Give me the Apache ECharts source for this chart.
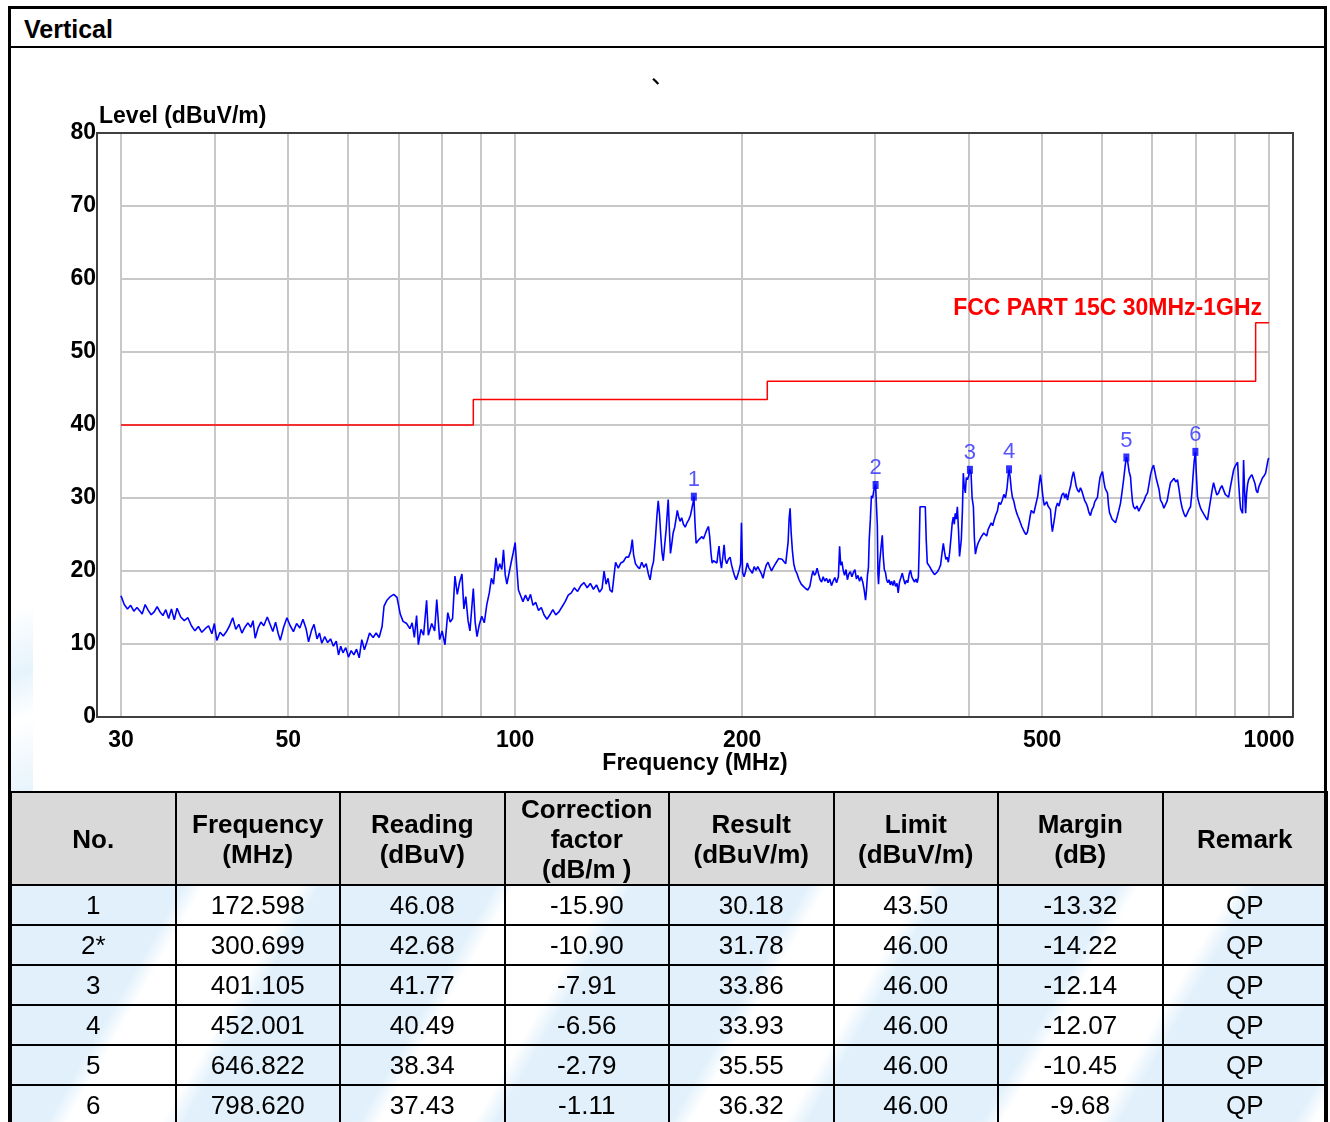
<!DOCTYPE html>
<html><head><meta charset="utf-8">
<script src="https://cdn.jsdelivr.net/npm/echarts@6/dist/echarts.min.js"></script>
<style>
html,body{margin:0;padding:0;background:#fff;width:1330px;height:1122px;overflow:hidden;font-family:'Liberation Sans',Arial,sans-serif;}
#outer{position:absolute;left:8px;top:6px;width:1319px;height:1140px;border:3px solid #000;box-sizing:border-box;z-index:5;pointer-events:none}
#hdr{position:absolute;left:11px;top:9px;height:37px;line-height:40px;padding-left:13px;font-weight:bold;font-size:25px;color:#000}
#hdrline{position:absolute;left:8px;top:46px;width:1319px;height:2px;background:#000;z-index:5}
#wm{position:absolute;left:11px;top:610px;width:22px;height:182px;background:linear-gradient(160deg,#ffffff 0%,#e6f3fc 35%,#ffffff 60%,#e6f3fc 100%)}
#chart{position:absolute;left:10px;top:48px;width:1315px;height:744px}
#wm2{position:absolute;left:10px;top:885px;width:1317px;height:237px;background-color:#e1f0fb;
 background-image:repeating-linear-gradient(120deg,#e1f0fb 0px,#e1f0fb 150px,#ffffff 168px,#ffffff 250px,#e1f0fb 270px)}
#tbl{position:absolute;left:10px;top:791px;width:1318px;border-collapse:collapse;table-layout:fixed}
#tbl td,#tbl th{border:2px solid #000;text-align:center;padding:0;color:#000;font-family:'Liberation Sans',Arial,sans-serif}
#tbl th{background:#d9d9d9;font-weight:bold;font-size:26px;line-height:30px;height:91px}
#tbl td{font-size:26px;height:38px;line-height:38px;background:transparent}
</style>
</head><body>
<div id="wm"></div>
<div id="chart"></div>
<div id="wm2"></div>
<table id="tbl"><thead><tr id="headRow"></tr></thead><tbody id="tbody"></tbody></table>
<div id="hdr">Vertical</div>
<div id="hdrline"></div>
<div id="outer"></div>
<script>
const tracePoints = [
[30.0,16.6],[30.3,15.4],[30.6,14.8],[30.9,15.3],[31.2,14.5],[31.5,15.0],[31.8,14.5],[32.0,14.1],[32.3,15.4],[32.6,14.6],
[32.9,14.0],[33.2,14.4],[33.5,15.1],[33.8,14.4],[34.1,13.9],[34.4,14.7],[34.7,13.5],[35.0,14.8],[35.3,13.3],[35.6,14.9],
[36.0,13.7],[36.4,13.2],[36.8,13.6],[37.2,12.5],[37.6,11.8],[38.0,12.4],[38.4,11.6],[38.8,12.1],[39.2,12.5],[39.6,11.4],
[39.9,12.8],[40.2,10.5],[40.6,11.6],[41.0,11.1],[41.4,11.7],[41.8,12.5],[42.2,13.6],[42.6,12.0],[43.0,12.7],[43.4,11.5],
[43.8,12.3],[44.2,12.9],[44.6,12.3],[44.9,13.2],[45.2,10.8],[45.6,12.2],[46.0,13.0],[46.4,12.5],[46.9,13.7],[47.3,12.7],
[47.7,11.7],[48.1,13.0],[48.5,11.4],[48.8,10.5],[49.3,12.3],[49.8,13.6],[50.3,12.5],[50.8,11.7],[51.3,12.8],[51.8,12.2],
[52.3,13.4],[52.8,12.1],[53.2,10.3],[53.7,11.9],[54.1,12.7],[54.6,10.7],[55.0,11.5],[55.4,10.1],[55.9,11.0],[56.4,10.2],
[56.9,10.7],[57.4,9.7],[57.9,10.4],[58.3,8.5],[58.7,9.7],[59.1,8.8],[59.6,9.5],[60.1,8.2],[60.6,9.1],[61.1,8.5],
[61.6,9.3],[62.1,8.1],[62.6,10.6],[63.1,9.2],[63.6,10.3],[64.1,11.5],[64.8,10.9],[65.4,11.5],[66.0,10.9],[66.6,12.4],
[67.0,15.2],[67.6,16.0],[68.3,16.5],[69.0,16.8],[69.7,16.4],[70.4,14.1],[71.0,13.1],[71.8,12.8],[72.5,12.1],[73.0,12.9],
[73.5,10.9],[74.0,13.9],[74.4,9.9],[75.0,12.0],[75.6,11.2],[76.3,16.0],[76.7,11.2],[77.5,12.8],[78.2,11.8],[78.7,16.1],
[79.4,10.6],[80.0,11.8],[80.7,9.9],[81.4,14.3],[82.0,13.0],[82.6,13.5],[83.2,19.3],[83.8,16.8],[84.4,18.5],[85.0,19.6],
[85.5,14.8],[86.0,16.5],[86.6,13.2],[87.1,11.8],[87.6,15.0],[88.0,17.6],[88.5,13.0],[89.0,11.0],[89.6,12.6],[90.3,13.8],
[91.0,12.9],[91.7,15.4],[92.4,17.0],[93.0,19.0],[93.6,18.2],[94.3,21.8],[94.8,20.0],[95.4,21.0],[96.0,20.2],[96.5,22.9],
[97.0,19.5],[97.5,18.2],[98.2,19.8],[98.8,21.2],[99.4,22.5],[100.0,23.9],[100.5,20.5],[101.0,17.4],[101.7,16.6],[102.4,15.8],
[103.2,16.7],[104.0,15.9],[104.8,16.8],[105.6,15.3],[106.5,15.7],[107.4,14.6],[108.3,15.0],[109.2,14.0],[110.2,13.4],[111.2,14.0],
[112.2,14.7],[113.2,14.0],[114.3,14.4],[115.4,15.1],[116.5,15.8],[117.6,16.7],[118.7,17.0],[119.8,17.7],[121.0,17.2],[122.2,18.0],
[123.4,18.4],[124.6,17.7],[125.8,18.3],[127.0,17.5],[128.2,18.1],[129.4,17.1],[130.4,17.6],[131.2,20.0],[132.0,18.2],[132.8,19.0],
[133.6,17.4],[134.5,17.1],[135.3,19.5],[135.9,21.2],[137.0,20.4],[138.1,21.1],[139.2,21.3],[140.3,21.9],[141.4,21.9],[142.3,22.7],
[143.0,24.3],[143.6,22.2],[144.4,21.0],[145.3,20.6],[146.2,20.3],[147.2,21.2],[148.2,20.5],[149.2,21.0],[150.2,19.6],[151.0,18.8],
[151.8,20.4],[152.6,21.3],[153.5,24.5],[154.2,27.6],[154.8,29.6],[155.4,27.8],[156.0,25.0],[156.6,22.5],[157.2,21.4],[157.9,23.6],
[158.6,25.7],[159.2,28.2],[159.6,29.8],[160.2,25.5],[160.7,22.4],[161.3,23.6],[162.0,25.2],[162.8,26.0],[163.5,27.2],[164.1,28.3],
[164.8,27.4],[165.5,26.8],[166.3,27.3],[167.2,26.4],[168.1,26.0],[169.0,26.6],[169.9,27.0],[170.8,27.6],[171.6,28.6],[172.2,29.4],
[172.6,30.2],[173.2,26.6],[173.8,23.8],[174.6,24.0],[175.3,24.3],[176.1,24.1],[176.9,24.7],[177.7,24.4],[178.6,25.0],[179.5,25.6],
[180.5,26.1],[181.2,24.6],[181.9,22.4],[182.5,21.1],[183.3,21.4],[184.2,21.6],[185.2,21.1],[185.8,22.4],[186.4,23.4],[187.1,21.4],
[187.8,20.4],[188.6,22.0],[189.3,23.6],[190.0,21.6],[190.8,21.0],[191.8,21.6],[192.8,21.9],[193.7,20.8],[194.6,20.0],[195.5,19.3],
[196.4,18.8],[197.3,19.4],[198.3,20.2],[199.1,21.0],[199.6,26.6],[200.3,19.8],[201.2,19.2],[202.2,20.0],[203.2,21.1],[204.2,20.4],
[205.3,20.2],[206.4,19.7],[207.5,20.6],[208.7,20.1],[209.8,20.6],[211.0,20.4],[212.2,19.6],[213.2,19.0],[214.2,20.0],[215.3,20.8],
[216.5,21.2],[217.6,20.6],[218.8,20.0],[220.0,20.5],[221.2,20.9],[222.4,21.3],[223.6,21.7],[224.8,21.9],[226.0,21.6],[227.2,21.3],
[228.5,21.0],[229.5,21.2],[230.2,24.0],[230.9,27.2],[231.6,28.6],[232.3,25.4],[233.2,22.8],[234.2,21.0],[235.3,20.1],[236.6,19.6],
[238.0,18.8],[239.6,18.2],[241.2,17.9],[242.8,17.6],[244.4,17.4],[246.0,17.9],[247.5,19.4],[248.4,20.0],[249.4,19.4],[250.5,19.7],
[251.5,20.4],[252.6,19.6],[253.8,18.8],[255.0,18.5],[256.2,19.2],[257.5,18.6],[258.8,19.0],[260.1,18.4],[261.4,18.9],[262.8,18.0],
[264.1,18.6],[265.5,19.1],[266.9,18.4],[268.4,19.2],[269.4,23.4],[270.3,20.8],[271.3,21.3],[272.4,20.1],[273.5,19.4],[274.7,20.2],
[275.9,18.8],[277.1,19.6],[278.4,19.9],[279.7,19.2],[281.0,19.8],[282.3,20.2],[283.6,18.9],[284.9,19.4],[286.3,18.6],[287.7,19.2],
[289.1,18.5],[290.4,17.4],[291.6,16.0],[292.5,17.5],[293.3,19.4],[294.2,20.5],[294.9,24.3],[295.9,27.0],[296.9,30.3],[298.0,30.0],
[299.0,31.0],[300.7,31.8],[301.6,28.6],[302.3,26.2],[302.9,19.5],[303.4,18.2],[304.5,21.2],[305.8,23.3],[306.9,24.9],[307.8,22.0],
[308.8,20.2],[309.9,19.8],[311.0,18.8],[312.1,18.4],[313.3,18.8],[314.5,18.1],[315.7,18.6],[317.0,18.0],[318.3,18.7],[319.6,17.9],
[321.0,18.3],[322.2,17.0],[323.5,18.5],[324.9,19.1],[326.2,19.7],[327.6,18.9],[329.0,18.2],[330.4,18.7],[331.8,18.4],[333.2,19.6],
[334.5,20.1],[335.9,19.2],[337.3,18.8],[338.8,18.5],[340.2,18.9],[341.5,18.4],[342.7,19.2],[343.5,23.0],[344.4,28.8],[347.2,28.8],
[350.0,28.8],[351.0,24.3],[352.1,21.1],[353.6,20.9],[355.2,20.5],[356.8,20.1],[358.4,19.8],[360.0,19.5],[361.6,19.6],[363.3,19.9],
[365.0,20.3],[366.7,20.8],[368.2,22.3],[369.8,23.8],[371.2,22.6],[372.7,21.6],[374.1,21.9],[375.5,21.2],[377.0,22.5],[378.6,24.6],
[380.0,26.6],[381.3,27.4],[382.4,26.4],[383.5,27.9],[384.7,27.1],[386.0,28.8],[387.4,25.5],[388.6,22.0],[389.5,22.2],[390.7,24.3],
[392.0,28.2],[393.1,33.4],[394.2,31.6],[395.5,30.7],[396.7,32.8],[398.0,32.5],[399.5,33.0],[401.1,33.9],[402.5,33.4],[403.8,30.0],
[405.4,28.8],[406.6,24.5],[407.9,22.3],[409.5,23.2],[411.2,23.8],[413.0,23.6],[414.8,24.6],[416.6,24.4],[418.4,25.2],[420.3,25.3],
[422.2,24.8],[424.1,25.7],[426.0,25.9],[428.0,26.6],[430.0,26.2],[432.0,27.0],[434.1,27.7],[436.2,28.2],[438.3,29.4],[440.5,29.1],
[442.7,29.7],[444.9,30.5],[447.1,30.0],[449.3,31.4],[451.0,33.2],[452.0,33.9],[453.6,32.8],[455.1,31.2],[456.7,30.1],[458.6,29.6],
[460.5,28.7],[462.5,28.0],[464.4,27.5],[466.2,27.1],[468.0,26.6],[469.9,26.1],[471.9,25.9],[473.9,25.3],[476.0,25.0],[478.1,25.3],
[480.0,26.3],[481.9,27.4],[483.7,28.3],[485.5,28.4],[487.5,27.9],[489.5,28.7],[491.5,28.8],[493.5,30.3],[495.5,31.9],[497.5,33.2],
[499.5,31.7],[501.5,30.0],[503.4,29.0],[505.2,28.8],[507.2,29.5],[509.2,28.9],[511.1,28.7],[513.0,28.4],[514.5,26.5],[516.0,25.4],
[517.7,25.6],[519.7,27.4],[521.7,28.7],[524.1,29.3],[526.5,28.9],[528.8,29.7],[531.2,30.4],[533.8,30.7],[536.0,30.0],[538.2,30.6],
[540.4,29.7],[542.9,30.8],[545.4,31.6],[547.9,32.8],[550.4,33.6],[552.6,32.7],[554.9,31.6],[557.1,31.1],[559.6,30.8],[562.2,31.4],
[564.8,30.9],[567.4,30.8],[569.7,29.6],[572.0,29.3],[574.4,28.8],[577.0,28.0],[579.6,27.6],[582.3,28.4],[585.0,28.8],[587.4,29.5],
[589.8,29.6],[592.2,30.1],[594.5,31.6],[596.8,32.8],[599.1,33.3],[601.3,33.6],[603.6,32.4],[606.0,31.4],[608.3,31.0],[610.6,30.7],
[612.5,29.0],[614.4,28.0],[616.2,27.9],[619.3,27.1],[622.5,26.9],[625.7,26.6],[628.9,27.4],[632.1,28.3],[635.4,29.3],[638.3,30.8],
[641.4,32.5],[644.3,34.3],[646.8,35.6],[649.6,34.9],[652.3,33.6],[655.1,32.9],[657.1,31.0],[659.1,29.5],[661.2,28.8],[664.7,28.5],
[668.2,28.9],[671.8,28.2],[675.4,28.4],[679.0,29.2],[682.6,29.6],[686.3,30.3],[690.0,30.7],[693.2,31.9],[696.4,33.2],[699.6,34.0],
[702.8,34.5],[705.7,33.6],[708.5,32.7],[711.4,32.5],[714.6,31.2],[717.9,29.7],[721.6,29.3],[725.3,28.6],[729.0,28.4],[732.7,29.6],
[736.4,30.9],[740.2,32.1],[744.2,32.4],[748.2,32.7],[752.2,32.2],[756.2,32.5],[759.7,31.2],[763.2,29.7],[767.1,28.6],[771.0,27.9],
[775.0,27.4],[778.9,27.9],[782.9,28.4],[786.9,28.8],[790.0,30.6],[792.8,32.9],[795.6,35.0],[798.6,36.3],[801.2,33.0],[803.9,30.1],
[808.0,29.2],[812.1,28.5],[816.3,28.4],[820.5,27.7],[824.6,27.3],[828.8,27.0],[832.6,28.4],[836.5,29.7],[840.3,31.0],[844.2,32.1],
[848.5,31.2],[852.8,30.4],[857.2,30.7],[861.6,31.3],[866.0,31.7],[870.4,31.5],[874.9,30.5],[879.3,30.3],[883.8,30.1],[888.3,31.4],
[892.9,32.6],[897.4,33.8],[901.1,34.3],[904.8,34.6],[908.5,34.9],[911.3,32.2],[914.1,30.1],[917.0,28.5],[919.8,28.2],[922.5,27.9],
[925.3,35.2],[928.1,31.0],[931.0,27.9],[933.9,30.6],[936.8,31.9],[939.6,32.5],[944.4,32.9],[949.2,33.2],[954.1,33.4],[958.0,32.0],
[961.9,31.0],[965.8,30.7],[968.8,31.4],[971.7,31.8],[974.7,32.1],[979.7,32.7],[984.7,33.0],[989.7,33.4],[993.3,34.3],[996.1,35.0],
[998.9,35.5]
];

// ---- limit line ----
const limitFreq = [30, 88, 88, 216, 216, 960, 960, 1000];
const limitLevel = [40, 40, 43.5, 43.5, 46, 46, 54, 54];
const limitName = 'FCC PART 15C 30MHz-1GHz';

// ---- table / markers ----
const tableHeaders = ['No.', 'Frequency<br>(MHz)', 'Reading<br>(dBuV)', 'Correction<br>factor<br>(dB/m )', 'Result<br>(dBuV/m)', 'Limit<br>(dBuV/m)', 'Margin<br>(dB)', 'Remark'];
const tableNo = ['1', '2*', '3', '4', '5', '6'];
const tableFreq = ['172.598', '300.699', '401.105', '452.001', '646.822', '798.620'];
const tableReading = ['46.08', '42.68', '41.77', '40.49', '38.34', '37.43'];
const tableCorr = ['-15.90', '-10.90', '-7.91', '-6.56', '-2.79', '-1.11'];
const tableResult = ['30.18', '31.78', '33.86', '33.93', '35.55', '36.32'];
const tableLimit = ['43.50', '46.00', '46.00', '46.00', '46.00', '46.00'];
const tableMargin = ['-13.32', '-14.22', '-12.14', '-12.07', '-10.45', '-9.68'];
const tableRemark = ['QP', 'QP', 'QP', 'QP', 'QP', 'QP'];
const markerLabels = ['1', '2', '3', '4', '5', '6'];

// ---- axes ----
const xGridValues = [30,40,50,60,70,80,90,100,200,300,400,500,600,700,800,900,1000];
const xLabelValues = [30,50,100,200,500,1000];
const yMin = 0, yMax = 80, yStep = 10;
const yName = 'Level (dBuV/m)';
const xName = 'Frequency (MHz)';
const titleText = '、';

// build table
const hr = document.getElementById('headRow');
tableHeaders.forEach(h => { const th = document.createElement('th'); th.innerHTML = h; hr.appendChild(th); });
const tb = document.getElementById('tbody');
tableNo.forEach((n, i) => {
  const tr = document.createElement('tr');
  [n, tableFreq[i], tableReading[i], tableCorr[i], tableResult[i], tableLimit[i], tableMargin[i], tableRemark[i]].forEach(v => {
    const td = document.createElement('td'); td.textContent = v; tr.appendChild(td);
  });
  tb.appendChild(tr);
});

const FONT = "'Liberation Sans', Arial, sans-serif";
const chart = echarts.init(document.getElementById('chart'), null, {renderer: 'canvas'});
chart.setOption({
  animation: false,
  backgroundColor: 'transparent',
  title: {text: titleText, left: 641, top: 14, padding: 0,
    textStyle: {fontSize: 24, fontWeight: 'normal', color: '#000', fontFamily: "'Noto Sans CJK SC'"}},
  grid: [
    {left: 111, right: 56, top: 85, bottom: 75, show: false},
    {left: 87, right: 32, top: 85, bottom: 75, show: true, borderColor: '#404040', borderWidth: 2, backgroundColor: 'transparent', z: 3}
  ],
  xAxis: [
    {type: 'log', logBase: 10, min: 30, max: 1000, gridIndex: 0,
     axisLine: {show: false},
     axisTick: {show: false, customValues: xGridValues},
     axisLabel: {customValues: xLabelValues, fontSize: 23, fontWeight: 'bold', color: '#000', fontFamily: FONT, margin: 12,
       formatter: v => String(Math.round(v))},
     splitLine: {show: true, lineStyle: {color: '#c8c8c8', width: 2}}},
    {type: 'value', gridIndex: 1, show: false, min: 0, max: 1}
  ],
  yAxis: [
    {type: 'value', min: yMin, max: yMax, interval: yStep, gridIndex: 0,
     axisLine: {show: false}, axisTick: {show: false},
     axisLabel: {fontSize: 23, fontWeight: 'bold', color: '#000', fontFamily: FONT, margin: 25},
     splitLine: {show: true, lineStyle: {color: '#c8c8c8', width: 2}}},
    {type: 'value', gridIndex: 1, show: false, min: 0, max: 1}
  ],
  graphic: [
    {type: 'text', x: 89, y: 69, z: 10, style: {text: yName, font: "bold 23px 'Liberation Sans', Arial", fill: '#000', align: 'left', verticalAlign: 'middle'}},
    {type: 'text', x: 685, y: 716, z: 10, style: {text: xName, font: "bold 23px 'Liberation Sans', Arial", fill: '#000', align: 'center', verticalAlign: 'middle'}},
    {type: 'text', x: 1252, y: 261, z: 10, style: {text: limitName, font: "bold 23px 'Liberation Sans', Arial", fill: '#ff0000', align: 'right', verticalAlign: 'middle'}}
  ],
  series: [
    {name: 'trace', type: 'line', xAxisIndex: 0, yAxisIndex: 0, symbol: 'none', z: 4,
     lineStyle: {color: '#0000ff', width: 1.6},
     data: tracePoints},
    {name: 'limit', type: 'line', xAxisIndex: 0, yAxisIndex: 0, symbol: 'none', z: 4,
     lineStyle: {color: '#ff0000', width: 1.5},
     data: limitFreq.map((f, i) => [f, limitLevel[i]])},
    {name: 'markers', type: 'scatter', xAxisIndex: 0, yAxisIndex: 0, symbol: 'rect', symbolSize: [6, 8], z: 5,
     itemStyle: {color: '#0000ff'},
     label: {show: true, position: 'top', distance: 2, fontSize: 22, color: '#2b2bff', fontFamily: FONT,
       formatter: p => markerLabels[p.dataIndex]},
     data: tableFreq.map((f, i) => [parseFloat(f), parseFloat(tableResult[i])])}
  ]
});
</script>
</body></html>
